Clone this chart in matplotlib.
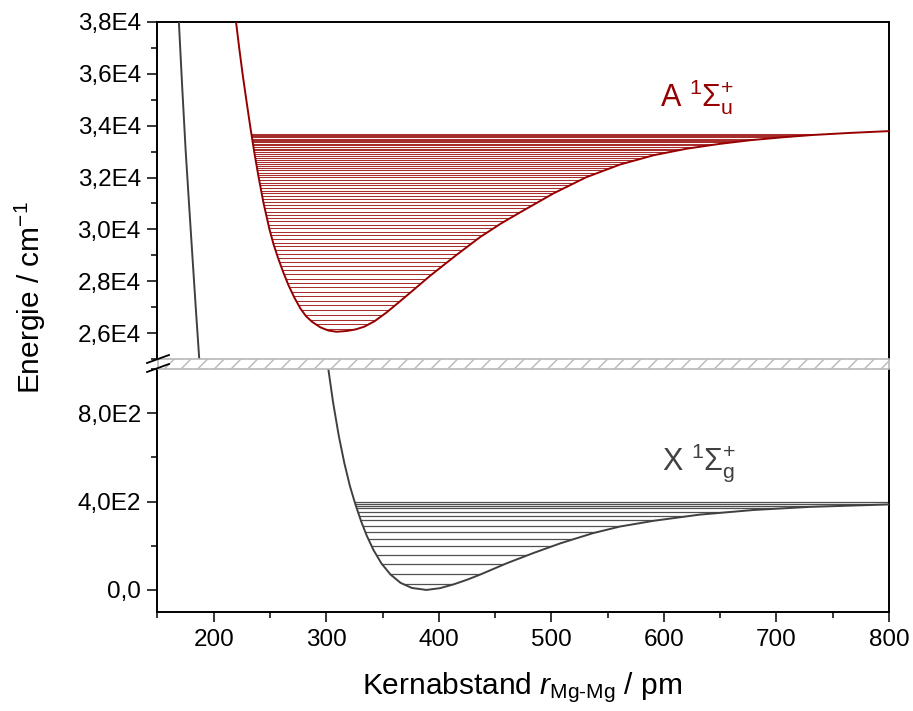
import matplotlib
matplotlib.use("Agg")
import matplotlib.pyplot as plt
from matplotlib.patches import Polygon, Rectangle
from matplotlib.lines import Line2D
from matplotlib.ticker import MultipleLocator, FuncFormatter

plt.rcParams['font.family'] = ['Liberation Sans', 'DejaVu Sans']
plt.rcParams['mathtext.fontset'] = 'custom'
plt.rcParams['mathtext.rm'] = 'Liberation Sans'
plt.rcParams['mathtext.it'] = 'Liberation Sans:italic'
plt.rcParams['mathtext.bf'] = 'Liberation Sans:bold'
plt.rcParams['hatch.linewidth'] = 1.0

# Potentialkurve X 1Sigma_g+ (r in pm, E in cm-1)
r_X = [169.0, 172.0, 175.0, 178.0, 181.0, 184.0, 187.1,
       301.8, 306.0, 311.0, 316.0, 321.0, 326.0, 331.0, 336.0, 342.0, 349.0,
       357.0, 366.0, 376.0, 389.0, 401.0, 413.0, 425.0, 437.0, 460.0, 484.0,
       508.0, 537.0, 561.0, 591.0, 632.0, 680.0, 730.0, 800.0]
E_X = [38000, 35450, 33060, 31000, 28980, 26980, 25000,
       1000, 850, 700, 575, 470, 385, 310, 245, 180, 120,
       70, 32, 9, 0, 8, 25, 46, 70, 120, 167,
       211, 257, 287, 313, 341, 362, 376, 387]

# Potentialkurve A 1Sigma_u+
r_A = [219.8, 222.6, 225.6, 228.9, 232.3, 235.9, 239.9, 244.3, 249.5, 253.3,
       257.3, 261.8, 266.4, 271.6, 277.0, 282.0, 287.5, 294.8, 302.0, 309.2,
       318.0, 326.0, 334.0, 343.0, 353.7, 364.0, 374.4, 392.0, 415.0, 436.6,
       455.0, 472.0, 502.0, 531.0, 561.0, 591.0, 620.0, 650.0, 677.0, 705.0,
       732.0, 765.0, 800.0]
E_A = [38000, 37000, 36000, 35000, 34000, 33000, 32000, 31000, 30000, 29400,
       28876, 28340, 27845, 27370, 26946, 26650, 26429, 26220, 26095, 26050,
       26080, 26140, 26250, 26460, 26800, 27170, 27550, 28200, 28990, 29700,
       30220, 30650, 31390, 32010, 32500, 32860, 33110, 33300, 33440, 33550,
       33640, 33720, 33790]

# Schwingungsniveaus
levels_X = [25, 73, 118, 159, 197, 231, 262, 290, 315, 336, 354, 369, 381, 390, 397]
levels_A = [26145, 26334, 26520, 26705, 26887, 27066, 27244, 27419, 27591, 27762,
            27930, 28096, 28259, 28421, 28580, 28736, 28891, 29043, 29192, 29340,
            29485, 29628, 29768, 29907, 30043, 30176, 30308, 30437, 30563, 30688,
            30810, 30930, 31047, 31163, 31276, 31386, 31495, 31601, 31704, 31806,
            31905, 32002, 32096, 32189, 32279, 32366, 32452, 32535, 32615, 32694,
            32770, 32844, 32915, 32985, 33052, 33116, 33179, 33239, 33297, 33352,
            33405, 33456, 33504, 33551, 33595, 33636, 33676]

col_A = '#960000'
col_X = '#404040'

fig = plt.figure(figsize=(9.13, 7.11), dpi=100)
ax_top = fig.add_axes([0.1725, 0.4951, 0.8012, 0.474])
ax_bot = fig.add_axes([0.1725, 0.1392, 0.8012, 0.3418])

for ax in (ax_top, ax_bot):
    ax.set_xlim(150, 800)
    ax.plot(r_X, E_X, color=col_X, lw=1.4, zorder=3)
    for s in ax.spines.values():
        s.set_linewidth(1.4)
    ax.tick_params(which='both', direction='out', width=1.1, labelsize=17.5, pad=5)
    ax.tick_params(which='major', length=7)
    ax.tick_params(which='minor', length=4)

# oberer Teil
ax_top.set_ylim(25000, 38000)
ax_top.plot(r_A, E_A, color=col_A, lw=1.4, zorder=3)
clip_A = Polygon(list(zip(r_A, E_A)) + [(800, 38000)], closed=True,
                 transform=ax_top.transData)
lc = ax_top.hlines(levels_A, 150, 800, color='#a01818', lw=0.75, alpha=0.9, zorder=2)
lc.set_clip_path(clip_A)
ax_top.spines['bottom'].set_visible(False)
ax_top.tick_params(axis='x', which='both', bottom=False, labelbottom=False)
ax_top.yaxis.set_major_locator(MultipleLocator(2000))
ax_top.yaxis.set_minor_locator(MultipleLocator(1000))
ax_top.yaxis.set_major_formatter(
    FuncFormatter(lambda v, p: f"{v / 1e4:.1f}".replace('.', ',') + "E4"))
ax_top.text(596.5, 34730, r"A $^{1}\Sigma_{\mathrm{u}}^{+}$", color=col_A,
            fontsize=22, va='baseline')

# unterer Teil
ax_bot.set_ylim(-100, 1000)
clip_X = Polygon(list(zip(r_X, E_X)) + [(800, 38000)], closed=True,
                 transform=ax_bot.transData)
lc2 = ax_bot.hlines(levels_X, 150, 800, color='#505050', lw=0.9, zorder=2)
lc2.set_clip_path(clip_X)
ax_bot.spines['top'].set_visible(False)
ax_bot.xaxis.set_major_locator(MultipleLocator(100))
ax_bot.xaxis.set_minor_locator(MultipleLocator(50))
ax_bot.yaxis.set_major_locator(MultipleLocator(400))
ax_bot.yaxis.set_minor_locator(MultipleLocator(200))


def fmt_bot(v, p):
    if abs(v) < 1e-9:
        return "0,0"
    return f"{v / 100:.1f}".replace('.', ',') + "E2"


ax_bot.yaxis.set_major_formatter(FuncFormatter(fmt_bot))
ax_bot.text(598, 545, r"X $^{1}\Sigma_{\mathrm{g}}^{+}$", color=col_X,
            fontsize=22, va='baseline')

# Achsenbruch
W, H = 913, 711
fig.add_artist(Rectangle((157.5 / W, 1 - 369 / H), 731.5 / W, 10 / H,
                         transform=fig.transFigure, facecolor='white',
                         edgecolor='#b8b8b8', hatch='//', lw=1.2, zorder=5))
for yb in (359, 368):
    fig.add_artist(Line2D([147 / W, 169 / W], [1 - (yb + 4) / H, 1 - (yb - 4) / H],
                          transform=fig.transFigure, color='black', lw=1.3, zorder=6))

fig.text(522.5 / W, 1 - 688 / H, "Kernabstand $\\mathit{r}_{\\mathrm{Mg\u2010Mg}}$ / pm",
         ha='center', va='center', fontsize=21.5)
fig.text(30 / W, 1 - 298 / H, "Energie / cm$^{-1}$", rotation=90,
         ha='center', va='center', fontsize=21.5)

fig.savefig("out.png", dpi=100)
